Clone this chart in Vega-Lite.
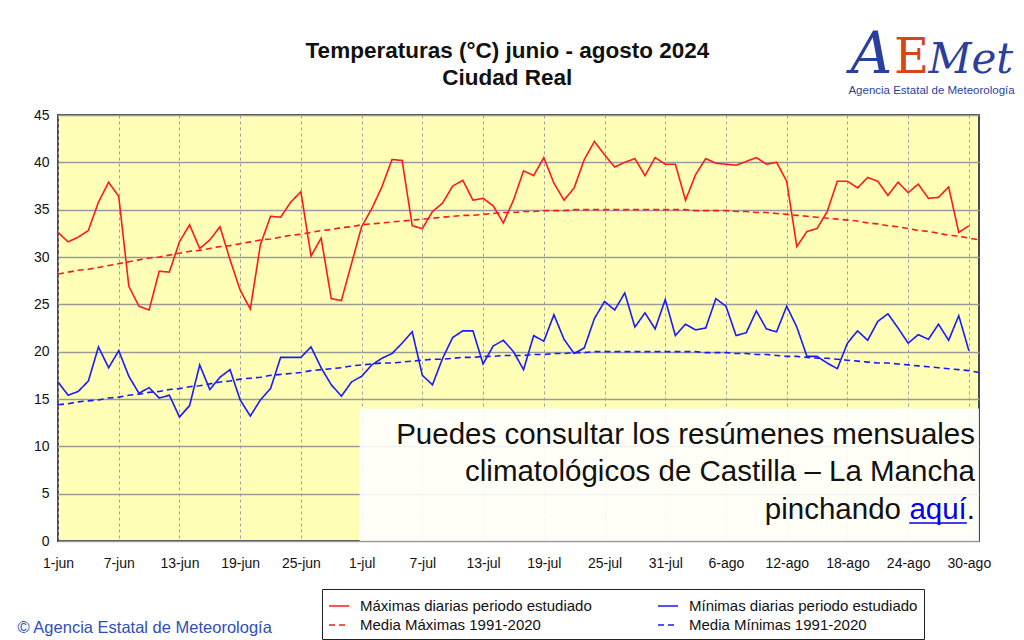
{
  "$schema": "https://vega.github.io/schema/vega-lite/v6.json",
  "autosize": {"type": "none"},
  "width": 921,
  "height": 426,
  "padding": {"left": 58, "top": 115, "right": 45, "bottom": 99},
  "background": "#ffffff",
  "config": {
    "font": "Liberation Sans",
    "view": {"fill": "#FFFFB8", "stroke": "#4a4a4a", "strokeWidth": 2}
  },
  "datasets": {
    "diario": [
      {"d":0,"tmax":32.6,"tmin":16.8,"nmax":28.2,"nmin":14.4},
      {"d":1,"tmax":31.6,"tmin":15.4,"nmax":28.4,"nmin":14.5},
      {"d":2,"tmax":32.1,"tmin":15.8,"nmax":28.6,"nmin":14.7},
      {"d":3,"tmax":32.8,"tmin":16.9,"nmax":28.7,"nmin":14.8},
      {"d":4,"tmax":35.8,"tmin":20.5,"nmax":28.9,"nmin":14.9},
      {"d":5,"tmax":37.9,"tmin":18.3,"nmax":29.1,"nmin":15.1},
      {"d":6,"tmax":36.4,"tmin":20.1,"nmax":29.3,"nmin":15.2},
      {"d":7,"tmax":26.9,"tmin":17.4,"nmax":29.5,"nmin":15.4},
      {"d":8,"tmax":24.8,"tmin":15.6,"nmax":29.7,"nmin":15.5},
      {"d":9,"tmax":24.4,"tmin":16.2,"nmax":29.9,"nmin":15.7},
      {"d":10,"tmax":28.5,"tmin":15.1,"nmax":30.0,"nmin":15.8},
      {"d":11,"tmax":28.4,"tmin":15.4,"nmax":30.2,"nmin":16.0},
      {"d":12,"tmax":31.6,"tmin":13.1,"nmax":30.4,"nmin":16.1},
      {"d":13,"tmax":33.4,"tmin":14.3,"nmax":30.6,"nmin":16.3},
      {"d":14,"tmax":30.9,"tmin":18.6,"nmax":30.7,"nmin":16.4},
      {"d":15,"tmax":31.8,"tmin":16.0,"nmax":30.9,"nmin":16.6},
      {"d":16,"tmax":33.2,"tmin":17.3,"nmax":31.1,"nmin":16.8},
      {"d":17,"tmax":29.7,"tmin":18.1,"nmax":31.2,"nmin":16.9},
      {"d":18,"tmax":26.5,"tmin":14.9,"nmax":31.4,"nmin":17.1},
      {"d":19,"tmax":24.5,"tmin":13.2,"nmax":31.6,"nmin":17.2},
      {"d":20,"tmax":31.3,"tmin":14.9,"nmax":31.8,"nmin":17.3},
      {"d":21,"tmax":34.3,"tmin":16.1,"nmax":31.9,"nmin":17.5},
      {"d":22,"tmax":34.2,"tmin":19.4,"nmax":32.1,"nmin":17.6},
      {"d":23,"tmax":35.8,"tmin":19.4,"nmax":32.3,"nmin":17.7},
      {"d":24,"tmax":36.9,"tmin":19.4,"nmax":32.4,"nmin":17.8},
      {"d":25,"tmax":30.1,"tmin":20.5,"nmax":32.6,"nmin":18.0},
      {"d":26,"tmax":32.0,"tmin":18.3,"nmax":32.8,"nmin":18.1},
      {"d":27,"tmax":25.6,"tmin":16.5,"nmax":32.9,"nmin":18.2},
      {"d":28,"tmax":25.4,"tmin":15.3,"nmax":33.1,"nmin":18.3},
      {"d":29,"tmax":29.3,"tmin":16.8,"nmax":33.2,"nmin":18.5},
      {"d":30,"tmax":33.2,"tmin":17.4,"nmax":33.4,"nmin":18.6},
      {"d":31,"tmax":35.1,"tmin":18.6,"nmax":33.5,"nmin":18.7},
      {"d":32,"tmax":37.4,"tmin":19.3,"nmax":33.6,"nmin":18.8},
      {"d":33,"tmax":40.3,"tmin":19.8,"nmax":33.7,"nmin":18.8},
      {"d":34,"tmax":40.2,"tmin":20.9,"nmax":33.8,"nmin":18.9},
      {"d":35,"tmax":33.3,"tmin":22.1,"nmax":33.9,"nmin":19.0},
      {"d":36,"tmax":33.0,"tmin":17.5,"nmax":34.0,"nmin":19.1},
      {"d":37,"tmax":34.8,"tmin":16.5,"nmax":34.1,"nmin":19.2},
      {"d":38,"tmax":35.7,"tmin":19.3,"nmax":34.2,"nmin":19.2},
      {"d":39,"tmax":37.5,"tmin":21.5,"nmax":34.3,"nmin":19.3},
      {"d":40,"tmax":38.1,"tmin":22.2,"nmax":34.4,"nmin":19.4},
      {"d":41,"tmax":36.0,"tmin":22.2,"nmax":34.4,"nmin":19.4},
      {"d":42,"tmax":36.2,"tmin":18.7,"nmax":34.5,"nmin":19.5},
      {"d":43,"tmax":35.4,"tmin":20.6,"nmax":34.6,"nmin":19.5},
      {"d":44,"tmax":33.6,"tmin":21.2,"nmax":34.7,"nmin":19.6},
      {"d":45,"tmax":36.0,"tmin":20.0,"nmax":34.7,"nmin":19.6},
      {"d":46,"tmax":39.1,"tmin":18.1,"nmax":34.8,"nmin":19.6},
      {"d":47,"tmax":38.6,"tmin":21.7,"nmax":34.8,"nmin":19.7},
      {"d":48,"tmax":40.5,"tmin":21.1,"nmax":34.9,"nmin":19.7},
      {"d":49,"tmax":37.8,"tmin":23.9,"nmax":34.9,"nmin":19.8},
      {"d":50,"tmax":36.0,"tmin":21.3,"nmax":34.9,"nmin":19.8},
      {"d":51,"tmax":37.3,"tmin":19.8,"nmax":35.0,"nmin":19.9},
      {"d":52,"tmax":40.3,"tmin":20.4,"nmax":35.0,"nmin":19.9},
      {"d":53,"tmax":42.2,"tmin":23.5,"nmax":35.0,"nmin":20.0},
      {"d":54,"tmax":40.8,"tmin":25.3,"nmax":35.0,"nmin":20.0},
      {"d":55,"tmax":39.5,"tmin":24.4,"nmax":35.0,"nmin":20.0},
      {"d":56,"tmax":40.0,"tmin":26.2,"nmax":35.0,"nmin":20.0},
      {"d":57,"tmax":40.4,"tmin":22.6,"nmax":35.0,"nmin":20.0},
      {"d":58,"tmax":38.6,"tmin":24.1,"nmax":35.0,"nmin":20.0},
      {"d":59,"tmax":40.5,"tmin":22.4,"nmax":35.0,"nmin":20.0},
      {"d":60,"tmax":39.8,"tmin":25.5,"nmax":35.0,"nmin":20.0},
      {"d":61,"tmax":39.8,"tmin":21.7,"nmax":35.0,"nmin":20.0},
      {"d":62,"tmax":36.0,"tmin":22.9,"nmax":35.0,"nmin":20.0},
      {"d":63,"tmax":38.7,"tmin":22.3,"nmax":34.9,"nmin":20.0},
      {"d":64,"tmax":40.4,"tmin":22.5,"nmax":34.9,"nmin":19.9},
      {"d":65,"tmax":39.9,"tmin":25.6,"nmax":34.9,"nmin":19.9},
      {"d":66,"tmax":39.8,"tmin":24.8,"nmax":34.9,"nmin":19.9},
      {"d":67,"tmax":39.7,"tmin":21.7,"nmax":34.8,"nmin":19.8},
      {"d":68,"tmax":40.1,"tmin":22.0,"nmax":34.8,"nmin":19.8},
      {"d":69,"tmax":40.5,"tmin":24.3,"nmax":34.7,"nmin":19.7},
      {"d":70,"tmax":39.8,"tmin":22.4,"nmax":34.7,"nmin":19.7},
      {"d":71,"tmax":40.0,"tmin":22.1,"nmax":34.6,"nmin":19.6},
      {"d":72,"tmax":38.0,"tmin":24.8,"nmax":34.5,"nmin":19.5},
      {"d":73,"tmax":31.1,"tmin":22.6,"nmax":34.4,"nmin":19.5},
      {"d":74,"tmax":32.7,"tmin":19.5,"nmax":34.3,"nmin":19.4},
      {"d":75,"tmax":33.0,"tmin":19.5,"nmax":34.2,"nmin":19.3},
      {"d":76,"tmax":34.8,"tmin":18.8,"nmax":34.1,"nmin":19.3},
      {"d":77,"tmax":38.0,"tmin":18.2,"nmax":34.0,"nmin":19.2},
      {"d":78,"tmax":38.0,"tmin":20.9,"nmax":33.9,"nmin":19.1},
      {"d":79,"tmax":37.3,"tmin":22.2,"nmax":33.8,"nmin":19.0},
      {"d":80,"tmax":38.4,"tmin":21.2,"nmax":33.6,"nmin":18.9},
      {"d":81,"tmax":38.0,"tmin":23.2,"nmax":33.5,"nmin":18.8},
      {"d":82,"tmax":36.5,"tmin":24.0,"nmax":33.3,"nmin":18.8},
      {"d":83,"tmax":37.9,"tmin":22.5,"nmax":33.2,"nmin":18.7},
      {"d":84,"tmax":36.8,"tmin":20.9,"nmax":33.0,"nmin":18.6},
      {"d":85,"tmax":37.7,"tmin":21.8,"nmax":32.8,"nmin":18.5},
      {"d":86,"tmax":36.2,"tmin":21.3,"nmax":32.7,"nmin":18.4},
      {"d":87,"tmax":36.3,"tmin":22.9,"nmax":32.5,"nmin":18.3},
      {"d":88,"tmax":37.4,"tmin":21.2,"nmax":32.3,"nmin":18.2},
      {"d":89,"tmax":32.6,"tmin":23.8,"nmax":32.2,"nmin":18.1},
      {"d":90,"tmax":33.3,"tmin":20.1,"nmax":32.0,"nmin":18.0},
      {"d":91,"tmax":null,"tmin":null,"nmax":31.8,"nmin":17.8}
    ]
  },
  "layer": [
    {
      "data": {"name": "diario"},
      "transform": [
        {"fold": ["tmax", "tmin", "nmax", "nmin"], "as": ["serie", "valor"]},
        {"filter": "isValid(datum.valor)"}
      ],
      "mark": {"type": "line", "strokeWidth": 1.6, "interpolate": "linear"},
      "encoding": {
        "x": {
          "field": "d", "type": "quantitative",
          "scale": {"domain": [0, 91], "nice": false, "zero": false},
          "axis": {
            "title": null,
            "values": [0, 6, 12, 18, 24, 30, 36, 42, 48, 54, 60, 66, 72, 78, 84, 90],
            "labelExpr": "['1-jun','7-jun','13-jun','19-jun','25-jun','1-jul','7-jul','13-jul','19-jul','25-jul','31-jul','6-ago','12-ago','18-ago','24-ago','30-ago'][round(datum.value/6)]",
            "labelFontSize": 14,
            "labelColor": "#111111",
            "labelPadding": 15,
            "labelFlush": false,
            "ticks": false,
            "domain": false,
            "grid": true,
            "gridColor": "#a0a0a0",
            "gridDash": [3, 3],
            "gridWidth": 1
          }
        },
        "y": {
          "field": "valor", "type": "quantitative",
          "scale": {"domain": [0, 45], "nice": false},
          "axis": {
            "title": null,
            "values": [0, 5, 10, 15, 20, 25, 30, 35, 40, 45],
            "labelFontSize": 14,
            "labelColor": "#111111",
            "labelPadding": 9,
            "ticks": false,
            "domain": false,
            "grid": true,
            "gridColor": "#9a9a9a",
            "gridWidth": 1.5
          }
        },
        "color": {
          "field": "serie", "type": "nominal",
          "scale": {"domain": ["tmax", "tmin", "nmax", "nmin"], "range": ["#FF1A1A", "#1A1AFF", "#FF1A1A", "#1A1AFF"]},
          "legend": {
            "title": null,
            "orient": "none",
            "legendX": 264,
            "legendY": 474,
            "direction": "horizontal",
            "columns": 2,
            "columnPadding": 62,
            "rowPadding": 0,
            "padding": 6,
            "strokeColor": "#222222",
            "fillColor": "#ffffff",
            "symbolType": "stroke",
            "symbolSize": 400,
            "symbolStrokeWidth": 1.6,
            "labelFontSize": 15,
            "labelColor": "#111111",
            "labelLimit": 400,
            "labelOffset": 10,
            "labelExpr": "datum.label == 'tmax' ? 'Máximas diarias periodo estudiado' : datum.label == 'tmin' ? 'Mínimas diarias periodo estudiado' : datum.label == 'nmax' ? 'Media Máximas 1991-2020' : 'Media Mínimas 1991-2020'"
          }
        },
        "strokeDash": {
          "field": "serie", "type": "nominal",
          "scale": {"domain": ["tmax", "tmin", "nmax", "nmin"], "range": [[1, 0], [1, 0], [6, 4], [6, 4]]},
          "legend": {
            "title": null,
            "orient": "none",
            "legendX": 264,
            "legendY": 474,
            "direction": "horizontal",
            "columns": 2,
            "columnPadding": 62,
            "rowPadding": 0,
            "padding": 6,
            "strokeColor": "#222222",
            "fillColor": "#ffffff",
            "symbolType": "stroke",
            "symbolSize": 400,
            "symbolStrokeWidth": 1.6,
            "labelFontSize": 15,
            "labelColor": "#111111",
            "labelLimit": 400,
            "labelOffset": 10,
            "labelExpr": "datum.label == 'tmax' ? 'Máximas diarias periodo estudiado' : datum.label == 'tmin' ? 'Mínimas diarias periodo estudiado' : datum.label == 'nmax' ? 'Media Máximas 1991-2020' : 'Media Mínimas 1991-2020'"
          }
        }
      }
    },
    {
      "data": {"values": [{}]},
      "mark": {"type": "rect", "fill": "#ffffff", "opacity": 0.88},
      "encoding": {
        "x": {"datum": 29.8, "type": "quantitative"},
        "x2": {"datum": 91},
        "y": {"datum": 0, "type": "quantitative"},
        "y2": {"datum": 14}
      }
    },
    {
      "data": {"values": [{"texto": "Temperaturas (°C) junio - agosto 2024"}]},
      "mark": {"type": "text", "align": "center", "baseline": "middle", "fontSize": 22.5, "fontWeight": "bold", "color": "#111111"},
      "encoding": {
        "x": {"datum": 44.4, "type": "quantitative"},
        "y": {"datum": 51.8, "type": "quantitative"},
        "text": {"field": "texto"}
      }
    },
    {
      "data": {"values": [{"texto": "Ciudad Real"}]},
      "mark": {"type": "text", "align": "center", "baseline": "middle", "fontSize": 22.5, "fontWeight": "bold", "color": "#111111"},
      "encoding": {
        "x": {"datum": 44.4, "type": "quantitative"},
        "y": {"datum": 48.9, "type": "quantitative"},
        "text": {"field": "texto"}
      }
    },
    {
      "data": {"values": [{"texto": "Puedes consultar los resúmenes mensuales"}]},
      "mark": {"type": "text", "align": "right", "baseline": "middle", "fontSize": 29.5, "dx": -4, "color": "#111111"},
      "encoding": {
        "x": {"datum": 91, "type": "quantitative"},
        "y": {"datum": 11.2, "type": "quantitative"},
        "text": {"field": "texto"}
      }
    },
    {
      "data": {"values": [{"texto": "climatológicos de Castilla – La Mancha"}]},
      "mark": {"type": "text", "align": "right", "baseline": "middle", "fontSize": 29.5, "dx": -4, "color": "#111111"},
      "encoding": {
        "x": {"datum": 91, "type": "quantitative"},
        "y": {"datum": 7.3, "type": "quantitative"},
        "text": {"field": "texto"}
      }
    },
    {
      "data": {"values": [{"texto": "."}]},
      "mark": {"type": "text", "align": "right", "baseline": "middle", "fontSize": 29.5, "dx": -4, "color": "#111111"},
      "encoding": {
        "x": {"datum": 91, "type": "quantitative"},
        "y": {"datum": 3.3, "type": "quantitative"},
        "text": {"field": "texto"}
      }
    },
    {
      "data": {"values": [{"texto": "aquí"}]},
      "mark": {"type": "text", "align": "right", "baseline": "middle", "fontSize": 29.5, "dx": -12.2, "color": "#0000EE"},
      "encoding": {
        "x": {"datum": 91, "type": "quantitative"},
        "y": {"datum": 3.3, "type": "quantitative"},
        "text": {"field": "texto"}
      }
    },
    {
      "data": {"values": [{}]},
      "mark": {"type": "rule", "color": "#0000EE", "strokeWidth": 1.5},
      "encoding": {
        "x": {"datum": 84.1, "type": "quantitative"},
        "x2": {"datum": 89.8},
        "y": {"datum": 1.9, "type": "quantitative"}
      }
    },
    {
      "data": {"values": [{"texto": "pinchando"}]},
      "mark": {"type": "text", "align": "right", "baseline": "middle", "fontSize": 29.5, "dx": -78, "color": "#111111"},
      "encoding": {
        "x": {"datum": 91, "type": "quantitative"},
        "y": {"datum": 3.3, "type": "quantitative"},
        "text": {"field": "texto"}
      }
    },
    {
      "data": {"values": [{"texto": "© Agencia Estatal de Meteorología"}]},
      "mark": {"type": "text", "align": "left", "baseline": "middle", "fontSize": 16.5, "color": "#2F4FB5"},
      "encoding": {
        "x": {"datum": -4, "type": "quantitative"},
        "y": {"datum": -9.2, "type": "quantitative"},
        "text": {"field": "texto"}
      }
    },
    {
      "data": {"values": [{"texto": "A"}]},
      "mark": {"type": "text", "align": "left", "baseline": "alphabetic", "fontSize": 58, "fontStyle": "italic", "font": "DejaVu Serif", "color": "#2B3F9C"},
      "encoding": {
        "x": {"datum": 78.3, "type": "quantitative"},
        "y": {"datum": 49.4, "type": "quantitative"},
        "text": {"field": "texto"}
      }
    },
    {
      "data": {"values": [{"texto": "E"}]},
      "mark": {"type": "text", "align": "left", "baseline": "alphabetic", "fontSize": 48, "font": "DejaVu Serif", "color": "#D2481A"},
      "encoding": {
        "x": {"datum": 82.6, "type": "quantitative"},
        "y": {"datum": 49.4, "type": "quantitative"},
        "text": {"field": "texto"}
      }
    },
    {
      "data": {"values": [{"texto": "Met"}]},
      "mark": {"type": "text", "align": "left", "baseline": "alphabetic", "fontSize": 42, "fontStyle": "italic", "font": "DejaVu Serif", "color": "#2B3F9C"},
      "encoding": {
        "x": {"datum": 86.0, "type": "quantitative"},
        "y": {"datum": 49.4, "type": "quantitative"},
        "text": {"field": "texto"}
      }
    },
    {
      "data": {"values": [{"texto": "Agencia Estatal de Meteorología"}]},
      "mark": {"type": "text", "align": "left", "baseline": "middle", "fontSize": 11.5, "color": "#2B3F9C"},
      "encoding": {
        "x": {"datum": 78.1, "type": "quantitative"},
        "y": {"datum": 47.5, "type": "quantitative"},
        "text": {"field": "texto"}
      }
    }
  ]
}
